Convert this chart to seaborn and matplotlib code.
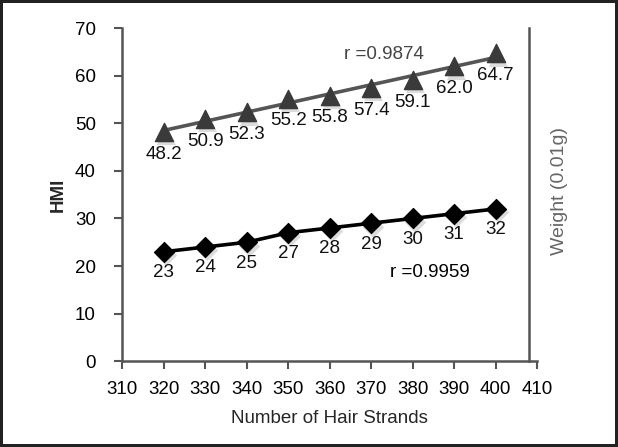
import matplotlib
matplotlib.use("Agg")
import matplotlib.pyplot as plt
import seaborn as sns
import pandas as pd

# data
strands = [320, 330, 340, 350, 360, 370, 380, 390, 400]
hmi = [48.2, 50.9, 52.3, 55.2, 55.8, 57.4, 59.1, 62.0, 64.7]
weight = [23, 24, 25, 27, 28, 29, 30, 31, 32]
hmi_labels = ["48.2", "50.9", "52.3", "55.2", "55.8", "57.4", "59.1", "62.0", "64.7"]
weight_labels = ["23", "24", "25", "27", "28", "29", "30", "31", "32"]
x_ticks = [310, 320, 330, 340, 350, 360, 370, 380, 390, 400, 410]
y_ticks = [0, 10, 20, 30, 40, 50, 60, 70]

df = pd.DataFrame({"strands": strands, "hmi": hmi, "weight": weight})

sns.set_style("ticks")
plt.rcParams["font.family"] = ["Liberation Sans", "DejaVu Sans"]

fig = plt.figure(figsize=(6.18, 4.47), dpi=100, edgecolor="#222222", linewidth=3)
ax = fig.add_axes([0.198, 0.192, 0.671, 0.745])

# HMI: linear trend line + triangle markers
sns.regplot(data=df, x="strands", y="hmi", ax=ax, ci=None, scatter=False,
            truncate=True, line_kws={"color": "#555555", "linewidth": 2.6})
# soft shadow under the markers
ax.scatter([x + 0.5 for x in strands], [y - 0.7 for y in hmi], marker="^",
           s=190, color="#bbbbbb", alpha=0.5, linewidths=0, zorder=3)
sns.scatterplot(data=df, x="strands", y="hmi", ax=ax, marker="^", s=170,
                color="#3a3a3a", edgecolor="#3a3a3a", zorder=4)

# weight: connected black diamonds
sns.lineplot(data=df, x="strands", y="weight", ax=ax, color="black", linewidth=2.6)
ax.scatter([x + 0.5 for x in strands], [y - 0.7 for y in weight], marker="D",
           s=120, color="#bbbbbb", alpha=0.5, linewidths=0, zorder=3)
sns.scatterplot(data=df, x="strands", y="weight", ax=ax, marker="D", s=105,
                color="black", edgecolor="black", zorder=4)

for x, y, t in zip(strands, hmi, hmi_labels):
    ax.annotate(t, (x, y), xytext=(0, -16), textcoords="offset points",
                ha="center", va="center", fontsize=13.5, color="#111111")
for x, y, t in zip(strands, weight, weight_labels):
    ax.annotate(t, (x, y), xytext=(0, -15), textcoords="offset points",
                ha="center", va="center", fontsize=13.5, color="#111111")

ax.text(363.5, 64.5, "r =0.9874", fontsize=13.5, color="#444444", va="center")
ax.text(374.5, 18.7, "r =0.9959", fontsize=13.5, color="black", va="center")

ax.set_xlim(310, 410)
ax.set_ylim(0, 70)
ax.set_xticks(x_ticks)
ax.set_yticks(y_ticks)
ax.tick_params(labelsize=13.5, colors="#555555", labelcolor="black", width=1.5, length=6)
ax.tick_params(axis="y", pad=13)
ax.tick_params(axis="x", pad=8)
for s in ["left", "bottom"]:
    ax.spines[s].set_color("#555555")
    ax.spines[s].set_linewidth(1.8)
ax.spines["top"].set_visible(False)
ax.spines["right"].set_visible(False)
ax.set_xlabel("Number of Hair Strands", fontsize=13.5, labelpad=9)
ax.set_ylabel("HMI", fontsize=13.5, fontweight="bold", labelpad=6)

# right axis (no ticks), grey
ax2 = ax.twinx()
ax2.set_ylim(0, 70.5)
ax2.set_yticks([])
for s in ["left", "top", "bottom"]:
    ax2.spines[s].set_visible(False)
ax2.spines["right"].set_position(("data", 408))
ax2.spines["right"].set_color("#555555")
ax2.spines["right"].set_linewidth(1.8)
fig.text(0.905, 0.573, "Weight (0.01g)", rotation=90, fontsize=14,
         color="#666666", ha="center", va="center")

fig.savefig("out.png", dpi=100, edgecolor=fig.get_edgecolor())
